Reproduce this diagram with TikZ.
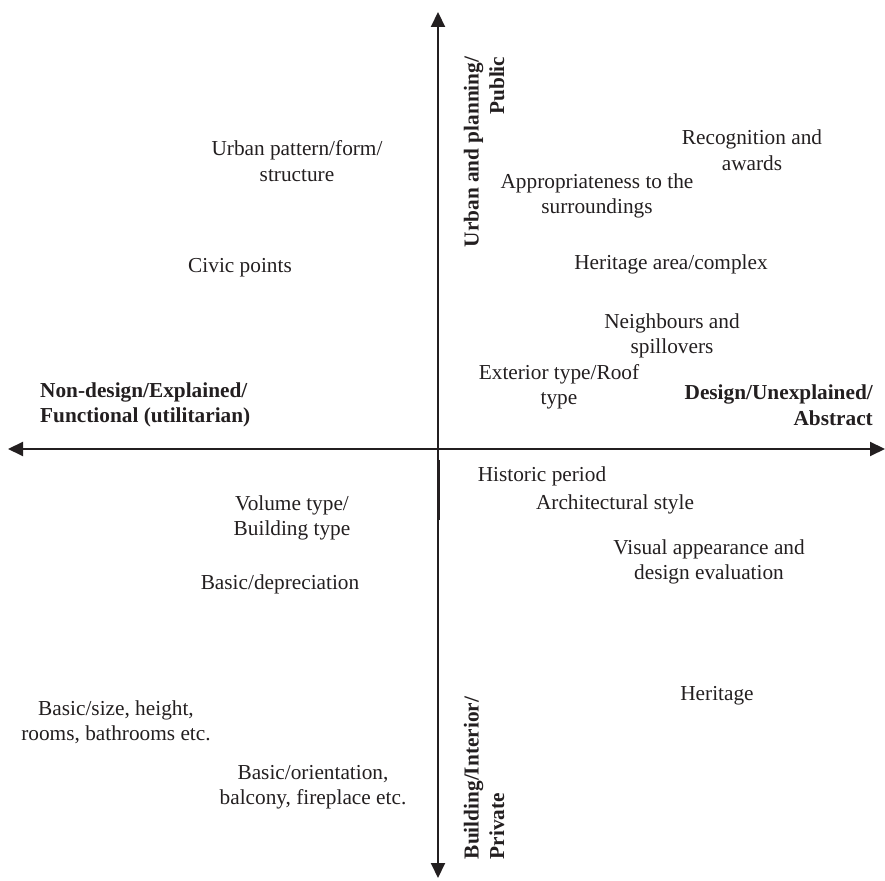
\documentclass[tikz,border=0pt]{standalone}
\usepackage{fontspec}
\setmainfont{Liberation Serif}
\usetikzlibrary{arrows.meta}
\definecolor{ink}{HTML}{231F20}
\begin{document}
\begin{tikzpicture}[x=1pt,y=1pt,
  axis/.style={draw=ink,line width=2pt,{Triangle[length=15pt,width=14pt]}-{Triangle[length=15pt,width=14pt]}},
  lbl/.style={text=ink,align=center,inner sep=0pt,font=\fontsize{21.3}{25.5}\selectfont},
  axlbl/.style={text=ink,inner sep=0pt,font=\fontsize{21.3}{25.5}\selectfont\bfseries}]
\useasboundingbox (0,0) rectangle (885,880);

% axes
\coordinate (cT) at (438,868);
\coordinate (cB) at (438,2);
\coordinate (cL) at (8,431);
\coordinate (cR) at (885,431);
\draw[axis] (cL) -- (cR);
\draw[axis] (cB) -- (cT);
\coordinate (s1) at (438,420);
\coordinate (s2) at (438,360);
\draw[ink,line width=3pt] (s1) -- (s2);

% axis captions
\node[axlbl,align=left,anchor=west] (nondesign) at (40,475) {Non-design/Explained/\\Functional (utilitarian)};
\node[axlbl,align=right,anchor=east] (design) at (873,475) {Design/Unexplained/\\Abstract};
\node[axlbl,align=right,rotate=90] (public) at (484,728) {Urban and planning/\\Public};
\node[axlbl,align=left,rotate=90] (private) at (484,102) {Building/Interior/\\Private};

% upper left
\node[lbl] (urban) at (297,719) {Urban pattern/form/\\structure};
\node[lbl] (civic) at (240,612) {Civic points};

% upper right
\node[lbl] (recog) at (752,730) {Recognition and\\awards};
\node[lbl] (approp) at (597,684) {Appropriateness to the\\surroundings};
\node[lbl] (harea) at (671,616) {Heritage area/complex};
\node[lbl] (neigh) at (672,544) {Neighbours and\\spillovers};
\node[lbl] (exterior) at (559,493) {Exterior type/Roof\\type};

% lower right
\node[lbl] (historic) at (542,404) {Historic period};
\node[lbl] (archstyle) at (615,376) {Architectural style};
\node[lbl] (visual) at (709,318) {Visual appearance and\\design evaluation};
\node[lbl] (heritage) at (717,184) {Heritage};

% lower left
\node[lbl] (volume) at (292,362) {Volume type/\\Building type};
\node[lbl] (deprec) at (280,296) {Basic/depreciation};
\node[lbl] (size) at (116,158) {Basic/size, height,\\rooms, bathrooms etc.};
\node[lbl] (orient) at (313,93) {Basic/orientation,\\balcony, fireplace etc.};
\end{tikzpicture}
\end{document}
